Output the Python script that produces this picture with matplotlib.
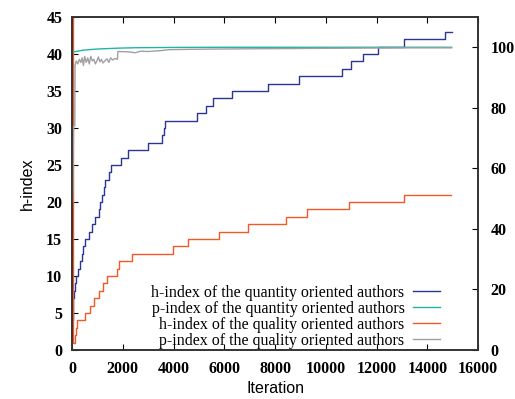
import matplotlib
matplotlib.use("Agg")
import matplotlib.pyplot as plt

# h-index of the quantity oriented authors (left axis), step data
quant_h_iter = [0, 20, 40, 50, 80, 120, 160, 250, 315, 400, 446, 510, 680, 775, 906,
                1077, 1120, 1168, 1260, 1300, 1471, 1524, 1918, 2220, 3006, 3560, 3620,
                3664, 4912, 5280, 5543, 6292, 7736, 8956, 10650, 10980, 11478, 12069,
                13094, 14697, 14960]
quant_h = [4, 5, 6, 7, 8, 9, 10, 11, 12, 13, 14, 15, 16, 17, 18,
           19, 20, 21, 22, 23, 24, 25, 26, 27, 28, 29, 30,
           31, 32, 33, 34, 35, 36, 37, 38, 39, 40, 41,
           42, 43, 43]

# h-index of the quality oriented authors (left axis)
qual_h_iter = [20, 40, 105, 158, 210, 512, 709, 867, 1077, 1208, 1366, 1760, 1860, 2360,
               3993, 4584, 5805, 6922, 8420, 9259, 10926, 13082, 14933]
qual_h = [60, 1, 2, 3, 4, 5, 6, 7, 8, 9, 10, 11, 12, 13,
          14, 15, 16, 17, 18, 19, 20, 21, 21]

# p-index of the quantity oriented authors (right axis)
quant_p_iter = [0, 150, 400, 800, 1200, 1800, 2500, 4000, 6000, 14960]
quant_p = [98.3, 98.6, 99.0, 99.3, 99.5, 99.7, 99.85, 99.95, 100.0, 100.0]

# p-index of the quality oriented authors (right axis)
qual_p_iter = [30, 60, 110, 120, 170, 230, 290, 350, 400, 450, 500, 560, 620, 680, 740,
               800, 860, 920, 980, 1040, 1100, 1160, 1220, 1300, 1380, 1450, 1520, 1600,
               1700, 1790, 1810, 2200, 2500, 2700, 3000, 3500, 3800, 4500, 5500, 7000,
               9000, 11000, 13000, 14960]
qual_p = [49, 74, 74, 94, 95.5, 94.5, 96, 95, 96.5, 94, 97, 95, 96.5, 94.5, 97,
          95.5, 96, 94.5, 95.5, 96.8, 95.2, 96, 94.8, 95.5, 96.2, 95, 96.5, 95.8,
          96.3, 96, 98.6, 98.5, 98.2, 98.7, 98.6, 98.9, 99.2, 99.3, 99.4, 99.5,
          99.6, 99.7, 99.8, 99.8]

labels = ["h-index of the quantity oriented authors",
          "p-index of the quantity oriented authors",
          "h-index of the quality oriented authors",
          "p-index of the quality oriented authors"]
colors = ["#2b3594", "#1fb5a5", "#f05a28", "#a0a0a0"]

serif = "Liberation Serif"
sans = "Liberation Sans"

fig = plt.figure(figsize=(5.15, 3.99), dpi=100)
ax = fig.add_axes([0.1398, 0.1228, 0.7884, 0.8346])
ax2 = ax.twinx()

l1, = ax.plot(quant_h_iter, quant_h, drawstyle="steps-post", color=colors[0], lw=1.0)
l2, = ax2.plot(quant_p_iter, quant_p, color=colors[1], lw=1.0)
l3, = ax.plot(qual_h_iter, qual_h, drawstyle="steps-post", color=colors[2], lw=1.0)
l4, = ax2.plot(qual_p_iter, qual_p, color=colors[3], lw=1.0)

ax.set_xlim(0, 16000)
ax.set_ylim(0, 45)
ax2.set_ylim(0, 110)
ax.set_xticks(range(0, 16001, 2000))
ax.set_yticks(range(0, 46, 5))
ax2.set_yticks(range(0, 101, 20))

ax.tick_params(axis="x", direction="in", top=True, length=4.5, width=0.8, pad=8)
ax.tick_params(axis="y", direction="in", length=4.5, width=0.8, pad=7)
ax2.tick_params(axis="y", direction="in", length=4.5, width=0.8, pad=9)
for a in (ax, ax2):
    for lab in a.get_xticklabels() + a.get_yticklabels():
        lab.set_fontfamily(serif)
        lab.set_fontweight("bold")
        lab.set_fontsize(11.5)
    for s in a.spines.values():
        s.set_linewidth(1.2)
        s.set_color("#333333")

ax.set_xlabel("Iteration", fontfamily=sans, fontsize=11.5, labelpad=3)
ax.set_ylabel("h-index", fontfamily=sans, fontsize=11.5, labelpad=8)

ax2.legend([l1, l2, l3, l4], labels, loc="lower right", bbox_to_anchor=(0.935, -0.03),
           frameon=False, markerfirst=False, handlelength=1.7, handletextpad=0.55,
           labelspacing=0.0, borderpad=0.2, prop={"family": serif, "size": 11.5})

fig.savefig("out.png", dpi=100)
